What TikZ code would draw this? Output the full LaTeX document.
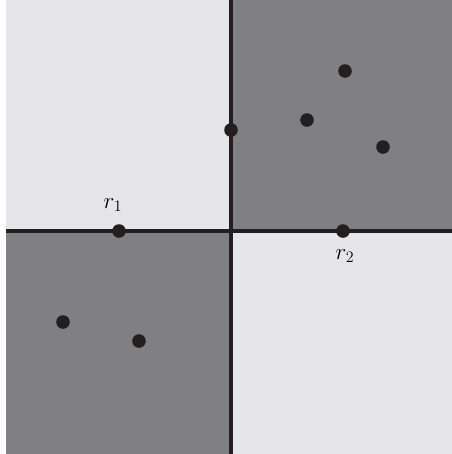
\documentclass[tikz,border=0pt]{standalone}
\usepackage{tikz}
\usetikzlibrary{positioning}
\definecolor{hell}{HTML}{E6E6E8}
\definecolor{dunkel}{HTML}{808083}
\definecolor{punkt}{HTML}{231F20}
\tikzset{
    feld/.style  = {draw=none},
    achse/.style = {draw=punkt, line width=2.4pt},
    dot/.style   = {circle, fill=punkt, inner sep=0pt, minimum size=10.2pt},
    marke/.style = {font=\fontsize{18}{20}\selectfont, inner sep=1pt}
}

\begin{document}
\begin{tikzpicture}[x=0.75pt, y=-0.75pt]
    \useasboundingbox (0,0) rectangle (452,454);

    % Quadranten
    \fill[hell]   (6,0) rectangle (231,231);
    \fill[dunkel] (231,0) rectangle (452,231);
    \fill[dunkel] (6,231) rectangle (231,454);
    \fill[hell]   (231,231) rectangle (452,454);

    % Trennlinien
    \coordinate (oben)   at (231,0);
    \coordinate (unten)  at (231,454);
    \coordinate (links)  at (6,231);
    \coordinate (rechts) at (452,231);
    \draw[achse] (oben) -- (unten);
    \draw[achse] (links) -- (rechts);

    % Punkte
    \node[dot] (p1) at (345,71)  {};
    \node[dot] (p2) at (307,120) {};
    \node[dot] (p3) at (383,147) {};
    \node[dot] (p4) at (231,130) {};
    \node[dot] (r1) at (119,231) {};
    \node[dot] (r2) at (343,231) {};
    \node[dot] (p5) at (63,322)  {};
    \node[dot] (p6) at (139,341) {};

    % Beschriftung
    \node[marke] (l1) at (113,205) {$r_1$};
    \node[marke] (l2) at (345,256) {$r_2$};
\end{tikzpicture}
\end{document}
